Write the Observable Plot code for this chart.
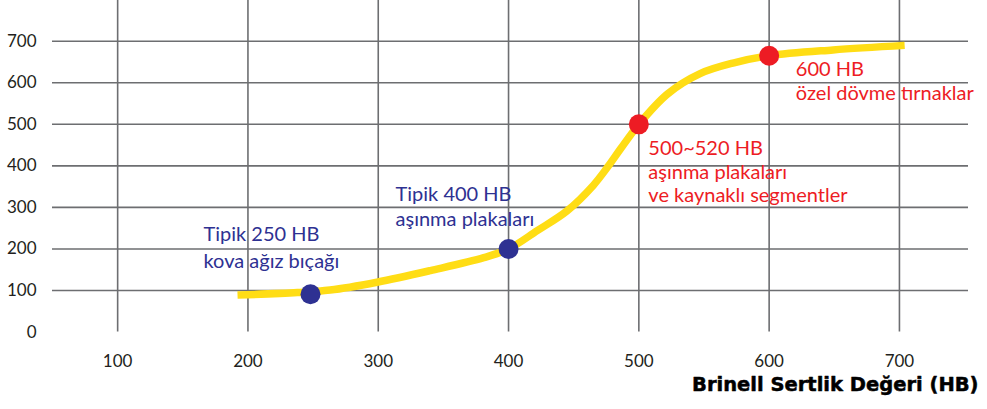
<!DOCTYPE html>
<html>
<head>
<meta charset="utf-8">
<script src="https://cdn.jsdelivr.net/npm/d3@7"></script>
<script src="https://cdn.jsdelivr.net/npm/@observablehq/plot@0.6"></script>
<style>
  html, body { margin: 0; padding: 0; background: #ffffff; }
  #chart svg { display: block; }
</style>
</head>
<body>
<div id="chart"></div>
<script>
// ---- data ----
const curveHardness = [192, 238, 263, 299, 340, 381, 400, 422, 445, 465, 476, 486, 500, 522, 547, 573, 600, 649, 704];
const curveValue    = [89,  95,  101, 120, 148, 179, 200, 244, 292, 353, 397, 441, 500, 573, 622, 648, 665, 679, 690];

const pointHardness = [248, 400, 500, 600];
const pointValue    = [91, 200, 500, 665];
const pointTitle    = ["Tipik 250 HB", "Tipik 400 HB", "500~520 HB", "600 HB"];
const pointDesc     = ["kova ağız bıçağı", "aşınma plakaları", "aşınma plakaları\nve kaynaklı segmentler", "özel dövme tırnaklar"];
const pointGroup    = ["tipik", "tipik", "ozel", "ozel"];

const xTicks = [100, 200, 300, 400, 500, 600, 700];
const yTicks = [0, 100, 200, 300, 400, 500, 600, 700];
const xTitle = "Brinell Sertlik Değeri (HB)";

// ---- build tables ----
const curve = curveHardness.map((h, i) => ({h, v: curveValue[i]}));
const points = pointHardness.map((h, i) => ({h, v: pointValue[i], title: pointTitle[i], desc: pointDesc[i], group: pointGroup[i]}));

const groupColor = {tipik: "#2e3192", ozel: "#ed1c24"};
const annFont = "Lato";
const annSize = 20;

// label offsets (style) per point: dx, title dy, description dy (last line baseline), line height px
const labelLayout = [
  {dx: -107, dyT: -52.8, dyD: -26.1, lh: 27},
  {dx: -113, dyT: -48.4, dyD: -23.4, lh: 25},
  {dx: 9.5,  dyT: 31,    dyD: 77.4,  lh: 22.5},
  {dx: 26.7, dyT: 20,    dyD: 44.7,  lh: 25}
];

const annMarks = [];
points.forEach((p, i) => {
  const L = labelLayout[i];
  const common = {x: "h", y: "v", dx: L.dx, textAnchor: "start", lineAnchor: "bottom",
    fill: groupColor[p.group], fontFamily: annFont, fontSize: annSize};
  annMarks.push(Plot.text([p], {...common, text: "title", dy: L.dyT}));
  annMarks.push(Plot.text([p], {...common, text: "desc", dy: L.dyD, lineHeight: L.lh / annSize}));
});

const chart = Plot.plot({
  width: 987,
  height: 409,
  marginLeft: 52,
  marginRight: 19,
  marginTop: 0,
  marginBottom: 77.45,
  style: {fontFamily: "Lato", fontSize: "17px", color: "#231f20", background: "#ffffff"},
  x: {domain: [50, 753]},
  y: {domain: [0, 798]},
  marks: [
    Plot.ruleY(yTicks.filter(d => d > 0), {stroke: "#6d6e71", strokeWidth: 1.6, strokeOpacity: 1}),
    Plot.ruleX(xTicks, {stroke: "#6d6e71", strokeWidth: 1.6, strokeOpacity: 1}),
    Plot.axisX(xTicks, {tickSize: 0, tickPadding: 23, label: null, fill: "#231f20"}),
    Plot.axisY(yTicks, {tickSize: 0, tickPadding: 16, label: null, fill: "#231f20"}),
    Plot.line(curve, {x: "h", y: "v", stroke: "#ffdd15", strokeWidth: 7.5, curve: "catmull-rom", strokeLinecap: "butt"}),
    Plot.dot(points, {x: "h", y: "v", r: 10, fill: d => groupColor[d.group], stroke: "none"}),
    ...annMarks,
    Plot.text([xTitle], {frameAnchor: "bottom-right", dx: 10, dy: 59.2, textAnchor: "end", lineAnchor: "bottom",
      fontFamily: "DejaVu Sans", fontWeight: "bold", fontSize: 19.5, fill: "#000000",
      stroke: "#000000", strokeWidth: 0.5})
  ]
});
document.getElementById("chart").appendChild(chart);
</script>
</body>
</html>
